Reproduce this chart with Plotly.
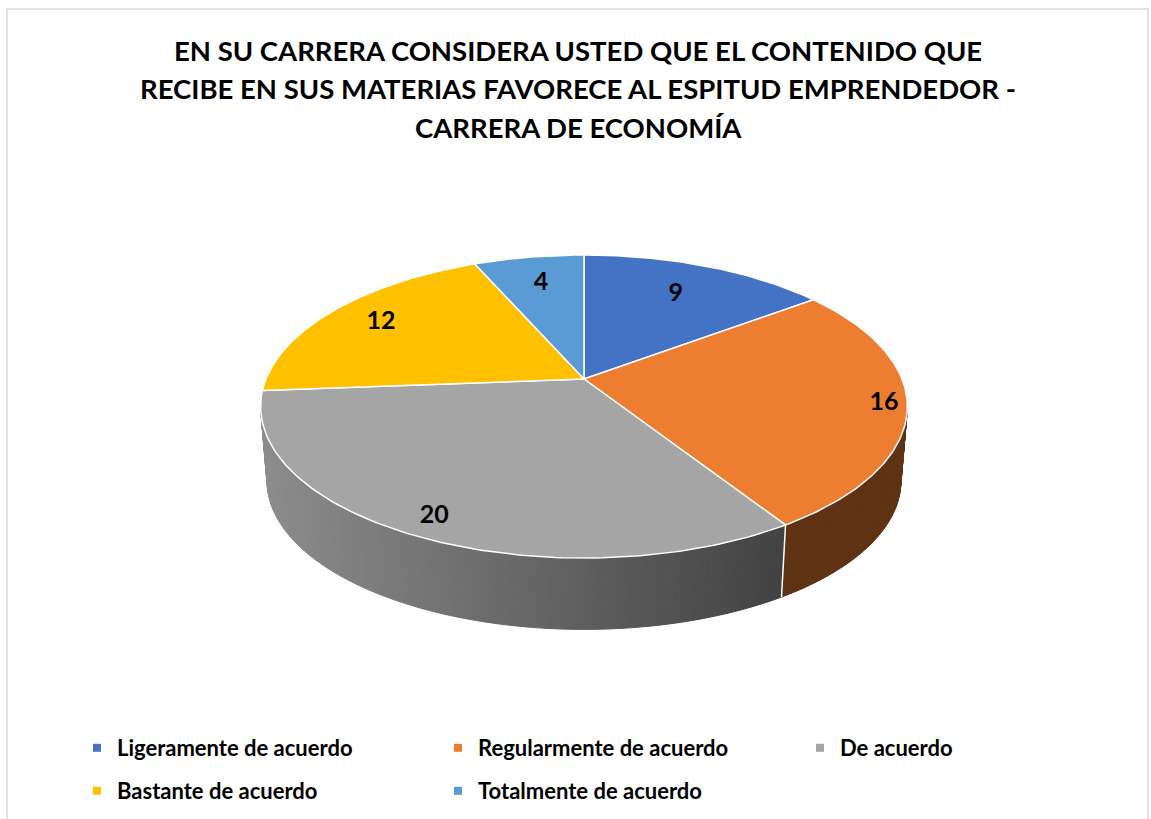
import numpy as np
import plotly.graph_objects as go

# ---------------- data ----------------
categories = ["Ligeramente de acuerdo", "Regularmente de acuerdo", "De acuerdo",
              "Bastante de acuerdo", "Totalmente de acuerdo"]
values = [9, 16, 20, 12, 4]
colors = ["#4472C4", "#ED7D31", "#A5A5A5", "#FFC000", "#5B9BD5"]
title_lines = ["EN SU CARRERA CONSIDERA USTED QUE EL CONTENIDO QUE",
               "RECIBE EN SUS MATERIAS FAVORECE AL ESPITUD EMPRENDEDOR -",
               "CARRERA DE ECONOMÍA"]

# ---------------- geometry / style ----------------
W, H = 1151, 819
CX, CY = 584, 379          # pie apex
A, B, P = 318, 146.5, 0.1815   # perspective ellipse parameters
DEPTH, SHRINK = 75, 0.98
label_r = [0.72, 0.93, 0.9, 0.8, 0.75]
FONT = "Lato"
# legend grid: (left px, top px) for each entry
legend_pos = [(77, 727), (438, 727), (800, 727), (77, 770), (438, 770)]


def proj(r, th, drop=0.0, s=1.0):
    X = r * np.cos(th)
    Y = r * np.sin(th)
    d = 1 + P * Y
    return CX + s * A * X / d, CY + drop - s * B * Y / d


def hex2rgb(h):
    h = h.lstrip("#")
    return [int(h[i:i + 2], 16) for i in (0, 2, 4)]


def shade(hexcol, f):
    r, g, b = hex2rgb(hexcol)
    return "rgb(%d,%d,%d)" % (r * f, g * f, b * f)


total = float(sum(values))
cum = np.concatenate([[0], np.cumsum(values)])
starts = np.pi / 2 - 2 * np.pi * cum[:-1] / total
ends = np.pi / 2 - 2 * np.pi * cum[1:] / total

fig = go.Figure()

# ---- side wall (front visible part) ----
th_left = np.pi + np.arcsin(P) - 2 * np.pi   # about -169.5 deg
th_right = -np.arcsin(P)                     # about -10.5 deg

for i in range(len(values)):
    s = starts[i]
    e = ends[i]
    for shift in (0, -2 * np.pi, 2 * np.pi):
        hi = min(s + shift, th_right)
        lo = max(e + shift, th_left)
        if hi > lo:
            n = max(2, int((hi - lo) / (np.pi / 180 * 1.0)))
            ts = np.linspace(hi, lo, n + 1)
            for k in range(n):
                tt = np.linspace(ts[k], ts[k + 1], 4)
                xt, yt = proj(1, tt)
                xb, yb = proj(1, tt[::-1], DEPTH, SHRINK)
                xm = float(np.mean(xt))
                f = np.interp(xm, [262, 786], [0.85, 0.40])
                col = shade(colors[i], f)
                fig.add_trace(go.Scatter(
                    x=np.concatenate([xt, xb, xt[:1]]),
                    y=np.concatenate([yt, yb, yt[:1]]),
                    mode="lines", fill="toself", fillcolor=col,
                    line=dict(color=col, width=1.0),
                    hoverinfo="skip", showlegend=False))

# white vertical seams between wall segments
for i in range(len(values)):
    for shift in (0, -2 * np.pi, 2 * np.pi):
        t = ends[i] + shift
        if th_left < t < th_right:
            xt, yt = proj(1, t)
            xb, yb = proj(1, t, DEPTH, SHRINK)
            fig.add_trace(go.Scatter(x=[xt, xb], y=[yt, yb], mode="lines",
                                     line=dict(color="white", width=1.5),
                                     hoverinfo="skip", showlegend=False))

# ---- top face wedges ----
for i in range(len(values)):
    ts = np.linspace(starts[i], ends[i], 120)
    xa, ya = proj(1, ts)
    fig.add_trace(go.Scatter(
        x=np.concatenate([[CX], xa, [CX]]),
        y=np.concatenate([[CY], ya, [CY]]),
        mode="lines", fill="toself", fillcolor=colors[i],
        line=dict(color="white", width=1.5),
        hoverinfo="text", hovertext=f"{categories[i]}: {values[i]}",
        showlegend=False))

# ---- data labels ----
mids = (starts + ends) / 2
lx, ly = [], []
for i in range(len(values)):
    x, y = proj(label_r[i], mids[i])
    lx.append(x)
    ly.append(y)
fig.add_trace(go.Scatter(x=lx, y=ly, mode="text", text=[str(v) for v in values],
                         textfont=dict(family=FONT, size=25, color="black", weight="bold"),
                         hoverinfo="skip", showlegend=False))

# ---- legend entries (one legend per grid cell) ----
legend_layout = {}
for i in range(len(values)):
    key = "legend" if i == 0 else f"legend{i + 1}"
    fig.add_trace(go.Scatter(x=[None], y=[None], mode="markers", name=categories[i],
                             legend=key,
                             marker=dict(symbol="square", size=8, color=colors[i])))
    lxp, lyp = legend_pos[i]
    legend_layout[key] = dict(
        orientation="h", xanchor="left", yanchor="top",
        x=lxp / W, y=1 - lyp / H,
        font=dict(family=FONT, size=22, color="black", weight="bold"),
        bgcolor="rgba(0,0,0,0)", itemclick=False, itemdoubleclick=False)

# ---- title ----
for k, line in enumerate(title_lines):
    fig.add_annotation(x=578, y=50 + 38.5 * k, xref="x", yref="y", text=line,
                       showarrow=False, xanchor="center", yanchor="middle",
                       font=dict(family=FONT, size=27.5, color="black", weight="bold"))

# ---- border ----
fig.add_shape(type="rect", xref="x", yref="y", x0=7, y0=9, x1=1148, y1=840,
              line=dict(color="#D9D9D9", width=1.5), layer="below")

fig.update_layout(
    width=W, height=H, autosize=False,
    margin=dict(l=0, r=0, t=0, b=0),
    paper_bgcolor="white", plot_bgcolor="white",
    xaxis=dict(range=[0, W], visible=False, fixedrange=True),
    yaxis=dict(range=[H, 0], visible=False, fixedrange=True),
    showlegend=True,
    **legend_layout,
)

fig.write_html("out.html", config={"displayModeBar": False})

# remove default page margin so the figure sits at the window origin
with open("out.html", "r", encoding="utf-8") as fh:
    html = fh.read()
html = html.replace("<head>", "<head><style>html,body{margin:0;padding:0;overflow:hidden;}</style>", 1)
with open("out.html", "w", encoding="utf-8") as fh:
    fh.write(html)
